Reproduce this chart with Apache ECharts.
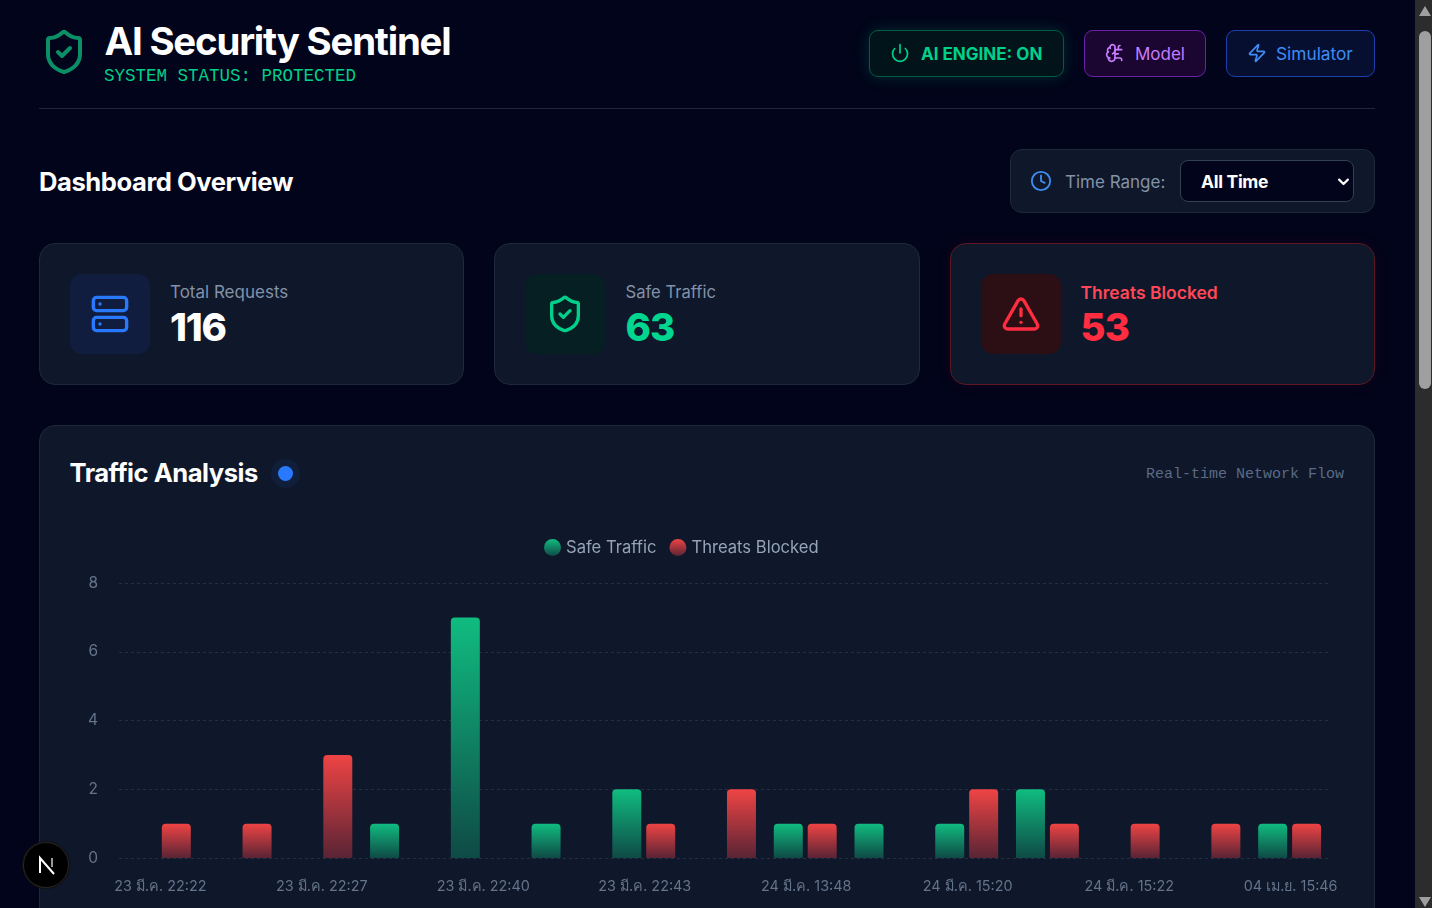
<!DOCTYPE html>
<html>
<head>
<meta charset="utf-8">
<script src="https://cdn.jsdelivr.net/npm/echarts@6/dist/echarts.min.js"></script>
<style>
html,body{margin:0;padding:0;width:1432px;height:908px;overflow:hidden;background:#01041a;font-family:Inter,"Noto Sans",sans-serif;color:#fff}
.abs,.box{position:absolute;box-sizing:border-box}
.t{position:absolute;white-space:nowrap;line-height:1}
.mono{font-family:"Liberation Mono",monospace}
svg{position:absolute;fill:none;stroke:currentColor;stroke-width:2;stroke-linecap:round;stroke-linejoin:round}
.btn{border-radius:9px;border:1px solid}
.card{background:#0f172a;border:1px solid #1e293b;border-radius:16px}
.ibox{width:80px;height:80px;top:30px;left:30px;border-radius:12px}
.ico{left:50px;top:50px;width:40px;height:40px}
</style>
</head>
<body>

<svg viewBox="0 0 24 24" style="left:40px;top:28px;width:48px;height:48px;color:#0b8f66"><path d="M20 13c0 5-3.5 7.5-7.66 8.95a1 1 0 0 1-.67-.01C7.5 20.5 4 18 4 13V6a1 1 0 0 1 1-1c2 0 4.5-1.2 6.24-2.72a1.17 1.17 0 0 1 1.52 0C14.51 3.81 17 5 19 5a1 1 0 0 1 1 1z"/><path d="m9 12 2 2 4-4"/></svg>
<div class="t" style="left:104.5px;top:22px;font-size:38.4px;font-weight:700;letter-spacing:-1.2px">AI Security Sentinel</div>
<div class="t mono" style="left:104px;top:68px;font-size:17.5px;color:#00d08a">SYSTEM STATUS: PROTECTED</div>
<div class="abs" style="left:39px;top:108px;width:1336px;height:1px;background:#1e293b"></div>

<div class="box btn" style="left:869px;top:30px;width:195px;height:47px;background:#02141a;border-color:#045a42;box-shadow:0 0 15px rgba(0,212,140,.2)"></div>
<svg viewBox="0 0 24 24" style="left:890px;top:43px;width:20px;height:20px;color:#00d08a"><path d="M12 2v10"/><path d="M18.4 6.6a9 9 0 1 1-12.77.04"/></svg>
<div class="t" style="left:921px;top:45.5px;font-size:17px;font-weight:700;letter-spacing:0;color:#00d08a">AI ENGINE: ON</div>

<div class="box btn" style="left:1084px;top:30px;width:122px;height:47px;background:#1a0630;border-color:#6b21a8"></div>
<svg viewBox="0 0 24 24" style="left:1105px;top:43px;width:20px;height:20px;color:#c77dff"><path d="M12 5a3 3 0 1 0-5.997.125 4 4 0 0 0-2.526 5.77 4 4 0 0 0 .556 6.588A4 4 0 1 0 12 18Z"/><path d="M9 13a4.5 4.5 0 0 0 3-4"/><path d="M6.003 5.125A3 3 0 0 0 6.401 6.5"/><path d="M3.477 10.896a4 4 0 0 1 .585-.396"/><path d="M6 18a4 4 0 0 1-1.967-.516"/><path d="M12 13h4"/><path d="M12 18h6a2 2 0 0 1 2 2v1"/><path d="M12 8h8"/><path d="M16 8V5a2 2 0 0 1 2-2"/></svg>
<div class="t" style="left:1135px;top:45.5px;font-size:17px;color:#c77dff">Model</div>

<div class="box btn" style="left:1226px;top:30px;width:149px;height:47px;background:#060f30;border-color:#1e40af"></div>
<svg viewBox="0 0 24 24" style="left:1247px;top:43px;width:20px;height:20px;color:#3f8cf6"><path d="M4 14a1 1 0 0 1-.78-1.63l9.9-10.2a.5.5 0 0 1 .86.46l-1.92 6.02A1 1 0 0 0 13 10h7a1 1 0 0 1 .78 1.63l-9.9 10.2a.5.5 0 0 1-.86-.46l1.92-6.02A1 1 0 0 0 11 14z"/></svg>
<div class="t" style="left:1276px;top:45px;font-size:17.3px;color:#3f8cf6">Simulator</div>

<div class="t" style="left:39px;top:168.5px;font-size:25.6px;font-weight:700;letter-spacing:-.45px">Dashboard Overview</div>

<div class="box" style="left:1010px;top:149px;width:365px;height:64px;background:#0f172a;border:1px solid #1e293b;border-radius:12px"></div>
<svg viewBox="0 0 24 24" style="left:1030px;top:170px;width:22px;height:22px;color:#3f8cf0"><circle cx="12" cy="12" r="10"/><polyline points="12 6 12 12 16 14"/></svg>
<div class="t" style="left:1065px;top:174px;font-size:17px;color:#8292a8">Time Range:</div>
<div class="box" style="left:1180px;top:160px;width:174px;height:42px;background:#01041a;border:1px solid #334155;border-radius:8px"></div>
<div class="t" style="left:1201px;top:173px;font-size:17.5px;font-weight:700;letter-spacing:-.3px">All Time</div>
<svg viewBox="0 0 24 24" style="left:1336px;top:174px;width:15px;height:15px;color:#fff;stroke-width:3.4"><path d="m5 9 7 7 7-7"/></svg>

<div class="box card" style="left:39px;top:243px;width:425px;height:142px">
  <div class="box ibox" style="background:#101d3e"></div>
  <svg class="ico" viewBox="0 0 24 24" style="color:#2979ff"><rect x="2" y="2" width="20" height="8" rx="2"/><rect x="2" y="14" width="20" height="8" rx="2"/><path d="M6 6h.01"/><path d="M6 18h.01"/></svg>
  <div class="t" style="left:130px;top:40px;font-size:17px;color:#8292a8">Total Requests</div>
  <div class="t" style="left:130px;top:64px;font-size:38.4px;font-weight:800;letter-spacing:-1.2px">116</div>
</div>

<div class="box card" style="left:494px;top:243px;width:426px;height:142px">
  <div class="box ibox" style="background:#051f22"></div>
  <svg class="ico" viewBox="0 0 24 24" style="color:#00d08a"><path d="M20 13c0 5-3.5 7.5-7.66 8.95a1 1 0 0 1-.67-.01C7.5 20.5 4 18 4 13V6a1 1 0 0 1 1-1c2 0 4.5-1.2 6.24-2.72a1.17 1.17 0 0 1 1.52 0C14.51 3.81 17 5 19 5a1 1 0 0 1 1 1z"/><path d="m9 12 2 2 4-4"/></svg>
  <div class="t" style="left:130.5px;top:40px;font-size:16.6px;color:#8292a8">Safe Traffic</div>
  <div class="t" style="left:130.5px;top:64px;font-size:38.4px;font-weight:800;letter-spacing:-.8px;color:#00d68f">63</div>
</div>

<div class="box card" style="left:950px;top:243px;width:425px;height:142px;border-color:#5e1722;box-shadow:0 0 15px rgba(255,40,60,.08)">
  <div class="box ibox" style="background:#2c0f14"></div>
  <svg class="ico" viewBox="0 0 24 24" style="color:#ff2d3f"><path d="m21.73 18-8-14a2 2 0 0 0-3.48 0l-8 14A2 2 0 0 0 4 21h16a2 2 0 0 0 1.73-3"/><path d="M12 9v4"/><path d="M12 17h.01"/></svg>
  <div class="t" style="left:129.5px;top:39.5px;font-size:17.5px;font-weight:600;color:#ff4757">Threats Blocked</div>
  <div class="t" style="left:129.5px;top:64px;font-size:38.4px;font-weight:800;letter-spacing:-.8px;color:#ff2d3f">53</div>
</div>

<div class="box card" style="left:39px;top:425px;width:1336px;height:600px"></div>
<div class="t" style="left:69.5px;top:460px;font-size:25.6px;font-weight:700;letter-spacing:-.5px">Traffic Analysis</div>
<div class="abs" style="left:278px;top:466px;width:15px;height:15px;border-radius:50%;background:#2979ff;box-shadow:0 0 0 7px rgba(41,121,255,.08)"></div>
<div class="t mono" style="left:1146px;top:467px;font-size:15px;color:#5b6b86">Real-time Network Flow</div>

<div id="main" class="abs" style="left:70px;top:525px;width:1274px;height:400px"></div>

<div class="box" style="left:23px;top:842px;width:46px;height:46px;border-radius:50%;background:#000;border:1px solid #262626;box-shadow:0 0 0 1px #111"></div>
<svg viewBox="0 0 46 46" style="left:23px;top:842px;width:46px;height:46px;color:#fff;stroke-width:2;stroke-linecap:butt;stroke-linejoin:miter"><path d="M17 31V16l14 16"/><path d="M29 16v9" stroke-opacity=".6"/></svg>

<div class="abs" style="left:1415px;top:0;width:17px;height:908px;background:#2c2c2c"></div>
<div class="abs" style="left:1419px;top:31px;width:12px;height:358px;border-radius:6px;background:#9f9f9f"></div>
<div class="abs" style="left:1419px;top:6px;width:0;height:0;border-left:6px solid transparent;border-right:6px solid transparent;border-bottom:10px solid #9f9f9f"></div>
<div class="abs" style="left:1419px;top:897px;width:0;height:0;border-left:6px solid transparent;border-right:6px solid transparent;border-top:10px solid #9f9f9f"></div>

<script>
var categories = ['23 มี.ค. 22:22','','23 มี.ค. 22:27','','23 มี.ค. 22:40','','23 มี.ค. 22:43','','24 มี.ค. 13:48','','24 มี.ค. 15:20','','24 มี.ค. 15:22','','04 เม.ย. 15:46'];
var safeTraffic = [0,0,0,1,7,1,2,0,1,1,1,2,0,0,1];
var threatsBlocked = [1,1,3,0,0,0,1,2,1,0,2,1,1,1,1];
var yTicks = { min: 0, max: 8, interval: 2 };

function fade(top, bottom) {
    return new echarts.graphic.LinearGradient(0, 0, 0, 1, [
        { offset: 0, color: top },
        { offset: 1, color: bottom }
    ]);
}

var myChart = echarts.init(document.getElementById('main'));
var option = {
    animation: false,
    textStyle: { fontFamily: 'Inter' },
    legend: {
        top: 9,
        left: 469,
        icon: 'circle',
        itemWidth: 17,
        itemHeight: 17,
        itemGap: 13,
        textStyle: { color: '#94a3b8', fontSize: 16.6, fontFamily: 'Inter' }
    },
    grid: { left: 49, right: 14, top: 58, bottom: 67 },
    xAxis: {
        type: 'category',
        data: categories,
        axisLine: { show: false },
        axisTick: { show: false },
        axisLabel: { color: '#64748b', fontSize: 14.4, margin: 22, interval: 1, hideOverlap: false, padding: [0, 0, 0, 2] }
    },
    yAxis: {
        type: 'value',
        min: yTicks.min,
        max: yTicks.max,
        interval: yTicks.interval,
        axisLine: { show: false },
        axisTick: { show: false },
        axisLabel: { color: '#64748b', fontSize: 15.5, margin: 21, padding: [4, 0, 0, 0] },
        splitLine: { lineStyle: { color: '#252f42', type: [3, 3] } }
    },
    series: [
        {
            name: 'Safe Traffic',
            type: 'bar',
            data: safeTraffic,
            barWidth: 29,
            barGap: '17%',
            itemStyle: { borderRadius: [4, 4, 0, 0], color: fade('#10bc80', '#0f4a46') }
        },
        {
            name: 'Threats Blocked',
            type: 'bar',
            data: threatsBlocked,
            barWidth: 29,
            itemStyle: { borderRadius: [4, 4, 0, 0], color: fade('#ef4444', '#592435') }
        }
    ]
};
myChart.setOption(option);
</script>
</body>
</html>
